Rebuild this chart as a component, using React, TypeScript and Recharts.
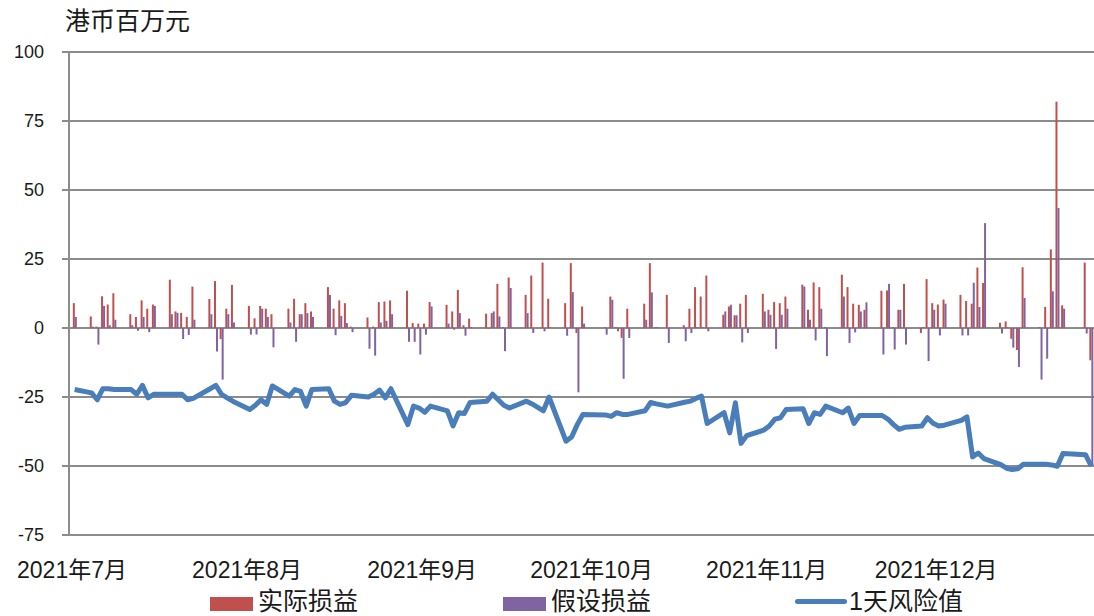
import { ComposedChart, Bar, Line, XAxis, YAxis, CartesianGrid } from 'recharts'

// trading days, Jul-Dec 2021 (MM-DD)
const dates = [
  '07-02', '07-05', '07-06', '07-07', '07-08', '07-09', '07-12', '07-13', '07-14', '07-15', '07-16',
  '07-19', '07-20', '07-21', '07-22', '07-23', '07-26', '07-27', '07-28', '07-29', '07-30',
  '08-02', '08-03', '08-04', '08-05', '08-06', '08-09', '08-10', '08-11', '08-12', '08-13',
  '08-16', '08-17', '08-18', '08-19', '08-20', '08-23', '08-24', '08-25', '08-26', '08-27', '08-30', '08-31',
  '09-01', '09-02', '09-03', '09-06', '09-07', '09-08', '09-09', '09-10', '09-13', '09-14', '09-15',
  '09-16', '09-17', '09-20', '09-21', '09-23', '09-24', '09-27', '09-28', '09-29', '09-30',
  '10-04', '10-05', '10-06', '10-07', '10-08', '10-11', '10-12', '10-13', '10-15', '10-18', '10-19',
  '10-20', '10-21', '10-22', '10-25', '10-26', '10-27', '10-28', '10-29',
  '11-01', '11-02', '11-03', '11-04', '11-05', '11-08', '11-09', '11-10', '11-11', '11-12', '11-15',
  '11-16', '11-17', '11-18', '11-19', '11-22', '11-23', '11-24', '11-25', '11-26', '11-29', '11-30',
  '12-01', '12-02', '12-03', '12-06', '12-07', '12-08', '12-09', '12-10', '12-13', '12-14', '12-15',
  '12-16', '12-17', '12-20', '12-21', '12-22', '12-23', '12-24', '12-28', '12-29',
]

// 实际损益
const actualPnl = [
  9, 4.2, 0.5, 11.5, 8.5, 12.6, 5, 4, 10, 7, 8.5,
  17.5, 6, 5.5, 4, 15, 10.5, 17, -4, 7, 15.6,
  8, 3.5, 8, 7, 5, 7, 10.6, 5, 9, 6,
  14.8, 7, 10, 9, 0.5, 3.8, 0.5, 9.4, 9.6, 10, 13.5, 1.8,
  1.6, 1.6, 9.4, 8.4, 6, 13.8, 1, 3.4, 5.2, 5.4, 16,
  0.3, 18.3, 12, 19, 23.7, 10.6, 9, 23.5, -1.8, 7.8,
  0.3, 11.4, 0.3, -3.6, 7, 8.8, 23.5, 0.3, 12, 1, 7,
  14.8, 11.4, 19, 4.8, 7.8, 4.6, 8.8, 12,
  12.4, 6.6, 9.4, 9, 11.4, 15.7, 6.6, 16.5, 14.8, 0.3, 19.3,
  14.8, 8.8, 8.4, 6.6, 13.5, 13.6, 0.3, 6.6, 16, -1.8, 17.7,
  9, 8.5, 10.3, 12, 9.8, 8.8, 21.9, 16.3, 1.9, 2.4, -3.9,
  -8, 22, 0.3, 7.6, 28.5, 82, 8.2, 23.7, -11.7,
]

// 假设损益
const hypoPnl = [
  4, 0.5, -6, 8, 1, 3, 1, -1, 4, -1.5, 8,
  5, 5.5, -4, -2.5, 3, 5, -8.5, -18.7, 5, 2,
  -2.4, -2.4, 7, 4, -7, 2, -5, 5, 5.4, 4,
  12, -2.6, 4.4, 1.8, -1.5, -7.5, -10, 2, 2.6, 5, -5, -5,
  -9.6, -2.4, 7.8, 1.6, -0.6, 5.4, -2.8, 0.3, -0.3, 6, 4.2,
  -8.4, 14.5, 5.4, -1.8, -1.2, 0.3, -2.8, 13, -23.3, 1.6,
  -2.4, 10.2, -1.2, -18.4, -3.6, 3, 12.9, 0.3, -5.4, -4.8, -1.8,
  0.3, 0.3, -1.2, 6, 8.4, 4.6, -5.2, -1.8,
  6, 4.8, -7.6, 4.8, 7, 15, 3, -4.5, 7, -10.2, 11.4,
  -5.4, -1.6, 6, 9.3, -9.6, 16, -7.8, 6.6, -6, 0.3, -12,
  6.6, -2.7, 8.8, -2.7, -2.7, 16.4, 7.6, 38, -2, 0.3, -7.1,
  -14.1, 10.9, -18.7, -11.1, 13.3, 43.5, 7, -2, -50,
]

// 1天风险值
const var1d = [
  -22.3, -23.5, -26, -22, -22, -22.3, -22.3, -24, -20.8, -25.3, -24,
  -24, -24, -24, -26, -25.5, -22, -20.8, -24, -25.3, -26.5,
  -29.5, -28, -26, -27.7, -21, -24.7, -22.3, -23, -28.3, -22.3,
  -22, -26.5, -27.7, -27, -24.4, -25, -24, -22.5, -25.3, -22, -35, -28.3,
  -29, -30.5, -28.3, -30, -35.5, -30.7, -31, -27, -26.5, -24, -26,
  -28, -29, -26.5, -27.5, -30, -25, -41, -39.5, -35, -31.3,
  -31.5, -32, -30.7, -31.3, -31.3, -30, -27, -27.5, -28.3, -26.9, -26.5,
  -25.5, -24.7, -34.6, -30.7, -38, -27.1, -41.8, -39,
  -37, -35.5, -33, -32.5, -29.5, -29.3, -34.6, -30.7, -31.3, -28.3, -30.7,
  -29, -34.6, -31.7, -31.7, -31.7, -33, -35, -36.7, -36, -35.5, -32.5,
  -34.5, -35.5, -35.2, -33.5, -32.2, -46.7, -45.3, -47.3, -49.5, -50.8, -51.3,
  -51, -49.4, -49.4, -49.4, -49.6, -50.1, -45.5, -45.9, -50,
]

const monthStarts = ['07-01', '08-01', '09-01', '10-01', '11-01', '12-01']
const monthLabels = ['2021年7月', '2021年8月', '2021年9月', '2021年10月', '2021年11月', '2021年12月']
const yTicks = [-75, -50, -25, 0, 25, 50, 75, 100]

const RED = '#C0504D'
const PURPLE = '#8064A2'
const BLUE = '#4A7EBB'
const GRID = '#8c8c8c'
const FONT = '"Liberation Sans", "Noto Sans CJK SC", sans-serif'

// days since 2021-07-01
const dayOf = (md: string) => {
  const [m, d] = md.split('-').map(Number)
  return (Date.UTC(2021, m - 1, d) - Date.UTC(2021, 6, 1)) / 86400000
}

const rows = dates.map((d, i) => ({
  day: dayOf(d),
  actual: actualPnl[i],
  hypo: hypoPnl[i],
  var: var1d[i],
}))

const tickDays = monthStarts.map(dayOf)

function MonthTick(props: any) {
  const { x, y, payload } = props
  const idx = tickDays.indexOf(payload.value)
  return (
    <text x={x + 3} y={y + 43} textAnchor="middle" fontSize={23} fill="#1a1a1a" fontFamily={FONT}>
      {monthLabels[idx]}
    </text>
  )
}

function LegendItem({ left, kind, color, label }: { left: number; kind: 'bar' | 'line'; color: string; label: string }) {
  return (
    <div style={{ position: 'absolute', left, top: 588, display: 'flex', alignItems: 'center', height: 27 }}>
      {kind === 'bar' ? (
        <div style={{ width: 43, height: 14, background: color, marginRight: 5, marginTop: 4 }} />
      ) : (
        <div style={{ width: 52, height: 5, borderRadius: 3, background: color, marginRight: 2 }} />
      )}
      <span style={{ fontSize: 25, lineHeight: '27px', color: '#1a1a1a' }}>{label}</span>
    </div>
  )
}

export default function App() {
  return (
    <div style={{ position: 'absolute', left: 0, top: 0, width: 1094, height: 616, overflow: 'hidden', background: '#fff', fontFamily: FONT }}>
      <div style={{ position: 'absolute', left: 65, top: 7, fontSize: 25, lineHeight: '28px', color: '#1a1a1a' }}>港币百万元</div>

      <ComposedChart
        width={1094}
        height={616}
        data={rows}
        margin={{ top: 52, right: 0, bottom: 0, left: 0 }}
        barGap={0}
      >
        <CartesianGrid vertical={false} stroke={GRID} strokeWidth={2} />
        <XAxis
          dataKey="day"
          type="number"
          domain={[0, 181.5]}
          allowDataOverflow
          ticks={tickDays}
          interval={0}
          height={81}
          tickLine={false}
          tickSize={0}
          tickMargin={0}
          axisLine={{ stroke: GRID, strokeWidth: 2 }}
          tick={<MonthTick />}
        />
        <YAxis
          type="number"
          domain={[-75, 100]}
          ticks={yTicks}
          interval={0}
          width={69}
          tickSize={7}
          tickMargin={18}
          tickLine={{ stroke: GRID, strokeWidth: 2 }}
          axisLine={{ stroke: GRID, strokeWidth: 2 }}
          tick={{ fontSize: 18, fill: '#1a1a1a', fontFamily: FONT }}
        />
        <Bar dataKey="actual" fill={RED} barSize={2} isAnimationActive={false} />
        <Bar dataKey="hypo" fill={PURPLE} barSize={2} isAnimationActive={false} />
        <Line
          dataKey="var"
          type="linear"
          stroke={BLUE}
          strokeWidth={5}
          strokeLinejoin="round"
          dot={false}
          isAnimationActive={false}
        />
      </ComposedChart>

      <LegendItem left={210} kind="bar" color={RED} label="实际损益" />
      <LegendItem left={503} kind="bar" color={PURPLE} label="假设损益" />
      <LegendItem left={795} kind="line" color={BLUE} label="1天风险值" />
    </div>
  )
}
